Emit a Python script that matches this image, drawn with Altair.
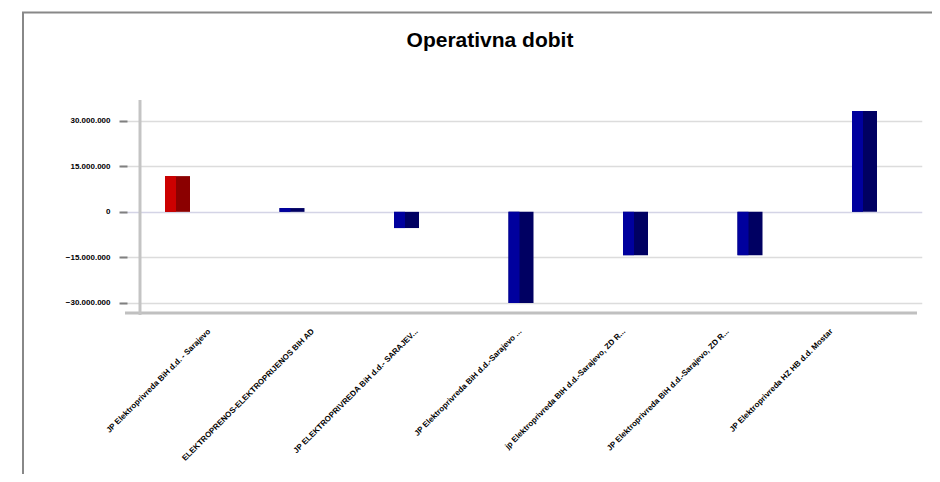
import altair as alt
import pandas as pd

companies = [
    "JP Elektroprivreda BiH d.d. - Sarajevo",
    "ELEKTROPRENOS-ELEKTROPRIJENOS BIH AD",
    "JP ELEKTROPRIVREDA BiH d.d.- SARAJEV...",
    "JP Elektroprivreda BiH d.d.-Sarajevo ...",
    "jp Elektroprivreda BIH d.d.-Sarajevo, ZD R...",
    "JP Elektroprivreda BiH d.d.-Sarajevo, ZD R...",
    "JP Elektroprivreda HZ HB d.d. Mostar",
]
operating_profit = [11_800_000, 1_250_000, -5_350_000, -30_100_000,
                    -14_300_000, -14_300_000, 33_300_000]
y_ticks = [-30_000_000, -15_000_000, 0, 15_000_000, 30_000_000]
selected_company = companies[0]
chart_title = ["Operativna dobit"]

df = pd.DataFrame({"company": companies, "value": operating_profit})
one = pd.DataFrame({"k": [0]})
title_df = pd.DataFrame({"t": chart_title})

W, H = 789, 215
FONT = "Liberation Sans"

y_scale = alt.Scale(domain=[-34_060_000, 36_930_000], nice=False, zero=False)

y_main = alt.Y(
    "value:Q",
    scale=y_scale,
    axis=alt.Axis(
        values=y_ticks, title=None, domain=False,
        tickSize=8, tickWidth=2, tickColor="#808080",
        labelPadding=9, labelFont=FONT, labelFontSize=8,
        labelFontWeight="bold", labelColor="black",
        labelExpr="replace(format(datum.value, ','), regexp(',', 'g'), '.')",
        grid=True,
        gridColor={"condition": {"test": "datum.value === 0", "value": "#d4d4e6"},
                   "value": "#dcdcdc"},
        gridWidth=1.5,
    ),
)
y_plain = alt.Y("value:Q", scale=y_scale)

bar_scale = alt.Scale(range=[-6.75, 794.75], paddingInner=0, paddingOuter=0)
x_bar = alt.X("company:N", sort=companies, scale=bar_scale, axis=None)

is_sel = alt.datum.company == selected_company

bars_dark = alt.Chart(df).mark_bar(width=25).encode(
    x=x_bar, y=y_main,
    color=alt.condition(is_sel, alt.value("#8B0000"), alt.value("#000062")),
)
bars_light = alt.Chart(df).mark_bar(width=11, xOffset=-7).encode(
    x=x_bar, y=y_plain,
    color=alt.condition(is_sel, alt.value("#CC0000"), alt.value("#00009E")),
)

label_layer = alt.Chart(df).mark_point(opacity=0).encode(
    x=alt.X(
        "company:N", sort=companies,
        scale=alt.Scale(range=[30.15, 756.05], paddingInner=0, paddingOuter=0),
        axis=alt.Axis(
            title=None, domain=False, ticks=False, tickSize=0, grid=False,
            labelAngle=315, labelAlign="right", labelBaseline="middle",
            labelPadding=15, labelFont=FONT, labelFontSize=8,
            labelFontWeight="bold", labelColor="black",
            labelOverlap=False, labelLimit=400,
        ),
    ),
    y=y_plain,
)

frame_left = alt.Chart(one).mark_rule(color="#888888", strokeWidth=2).encode(
    x=alt.value(-104), y=alt.value(-88), y2=alt.value(420))
frame_top = alt.Chart(one).mark_rule(color="#888888", strokeWidth=2).encode(
    x=alt.value(-105), x2=alt.value(900), y=alt.value(-87.5))
axis_v = alt.Chart(one).mark_rule(color="#c4c4c4", strokeWidth=3).encode(
    x=alt.value(13), y=alt.value(0), y2=alt.value(215))
axis_h = alt.Chart(one).mark_rule(color="#c0c0c0", strokeWidth=3).encode(
    x=alt.value(-2), x2=alt.value(790), y=alt.value(213))

title_mark = alt.Chart(title_df).mark_text(
    font=FONT, fontSize=21, fontWeight="bold", color="black",
    align="center", baseline="alphabetic",
).encode(text="t:N", x=alt.value(363), y=alt.value(-53))

chart = alt.layer(
    bars_dark, bars_light, label_layer, frame_left, frame_top, axis_h, axis_v,
    title_mark,
).resolve_scale(x="independent").properties(
    width=W, height=H,
    autosize=alt.AutoSizeParams(type="none"),
    padding={"left": 119, "top": 92, "right": 16, "bottom": 159},
    background="white",
).configure_view(stroke=None)

chart.save("out.html", embed_options={"renderer": "svg", "actions": False})
